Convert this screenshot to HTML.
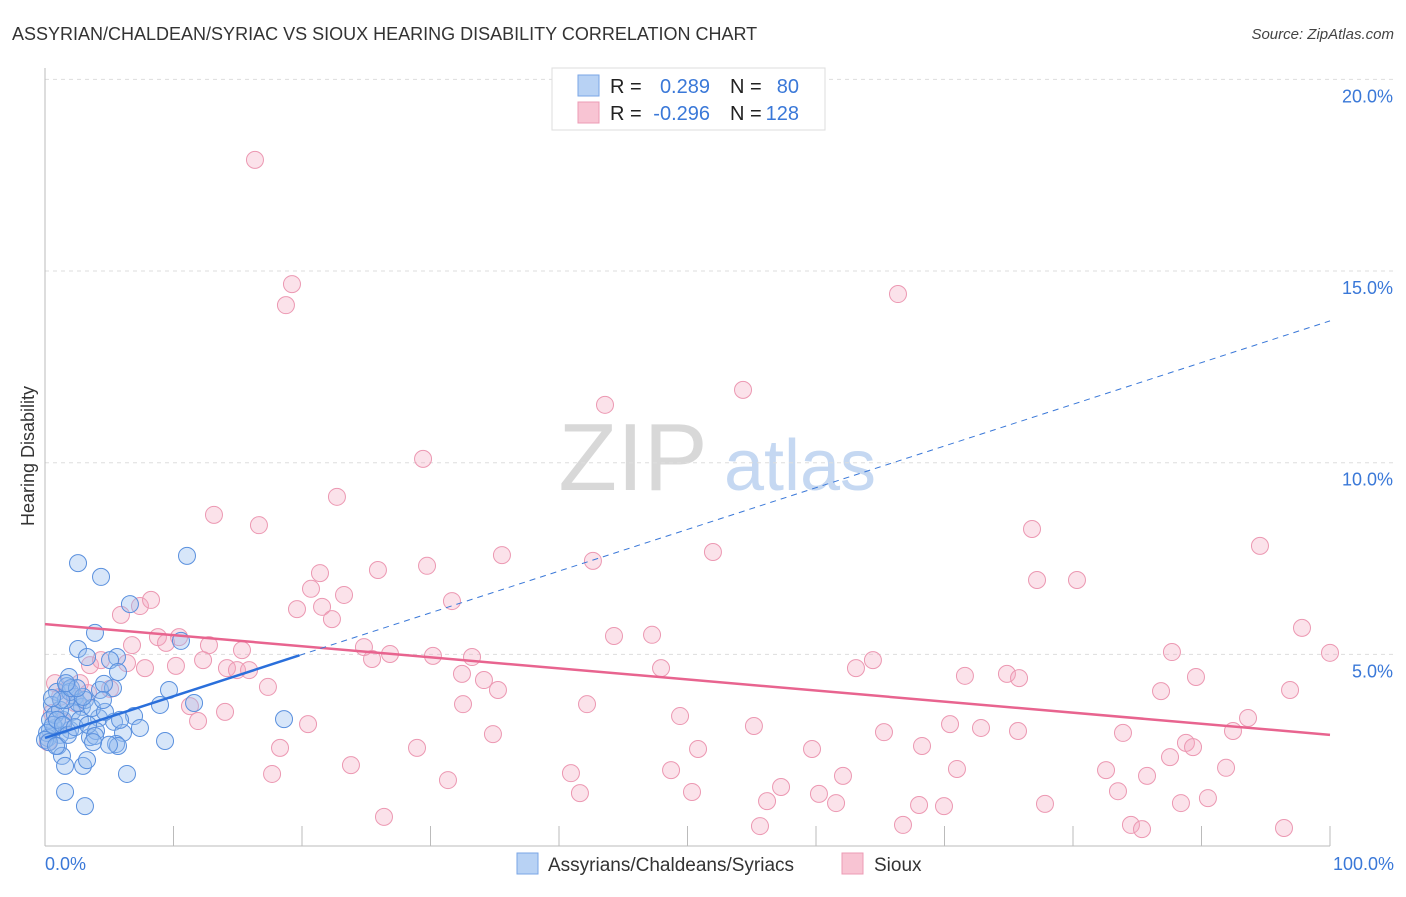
<!DOCTYPE html>
<html><head><meta charset="utf-8"><style>
body{margin:0;background:#fff;font-family:"Liberation Sans",sans-serif;}
svg text{font-family:"Liberation Sans",sans-serif;}
</style></head><body>
<svg id="chart" width="1406" height="892" xmlns="http://www.w3.org/2000/svg">
<text x="12" y="40" font-size="18" fill="#333">ASSYRIAN/CHALDEAN/SYRIAC VS SIOUX HEARING DISABILITY CORRELATION CHART</text>
<text x="1394" y="39" font-size="15" fill="#444" font-style="italic" text-anchor="end">Source: ZipAtlas.com</text>
<g>
<text x="633" y="490" font-size="96" fill="#d8d8d8" font-family="Liberation Serif" text-anchor="middle">ZIP</text>
<text x="800" y="490" font-size="72" fill="#c5d8f2" text-anchor="middle">atlas</text>
</g>
<text transform="translate(34,456) rotate(-90)" font-size="18" fill="#333" text-anchor="middle">Hearing Disability</text>
<g id="grid"></g>
<g id="axes"></g>
<g id="pts"></g>
<g id="lines"></g>
<g>
<rect x="552" y="68" width="273" height="62" fill="#fff" stroke="#ddd"/>
<rect x="578" y="75" width="21" height="21" fill="#b8d2f4" stroke="#7aa6e6"/>
<rect x="578" y="102" width="21" height="21" fill="#f8c4d3" stroke="#ec9bb4"/>
<text x="610" y="93" font-size="20" fill="#222">R =</text>
<text x="710" y="93" font-size="20" fill="#3a78d8" text-anchor="end">0.289</text>
<text x="730" y="93" font-size="20" fill="#222">N =</text>
<text x="799" y="93" font-size="20" fill="#3a78d8" text-anchor="end">80</text>
<text x="610" y="120" font-size="20" fill="#222">R =</text>
<text x="710" y="120" font-size="20" fill="#3a78d8" text-anchor="end">-0.296</text>
<text x="730" y="120" font-size="20" fill="#222">N =</text>
<text x="799" y="120" font-size="20" fill="#3a78d8" text-anchor="end">128</text>
</g>
<g>
<rect x="517" y="853" width="21" height="21" fill="#b8d2f4" stroke="#7aa6e6"/>
<text x="548" y="871" font-size="19" fill="#333">Assyrians/Chaldeans/Syriacs</text>
<rect x="842" y="853" width="21" height="21" fill="#f8c4d3" stroke="#ec9bb4"/>
<text x="874" y="871" font-size="19" fill="#333">Sioux</text>
</g>
</svg>
<script>
const yTicks=[5,10,15,20];
const yTickLabels=["5.0%","10.0%","15.0%","20.0%"];
const xTickLabels=["0.0%","100.0%"];
const blueX=[2.57,4.36,11.05,6.61,3.89,2.57,10.58,3.27,5.60,5.06,1.87,0.93,1.71,2.33,4.28,5.29,5.68,4.59,9.65,11.60,8.95,2.88,4.20,6.93,5.37,3.50,6.07,5.53,3.97,1.95,1.17,0.78,0.39,0.23,1.40,2.10,2.57,3.11,0.54,1.01,1.32,1.56,2.96,3.27,5.68,9.34,6.38,1.56,3.11,18.6,0.39,0.78,1.17,1.63,1.95,3.66,4.67,2.72,0.16,0.62,0.93,1.40,0.0,0.31,1.79,2.33,3.35,3.89,4.98,5.84,7.39,1.25,2.02,0.54,2.96,2.49,1.63,0.86,3.74,4.51];
const blueY=[7.38,7.02,7.57,6.31,5.56,5.14,5.35,4.93,4.93,4.85,4.41,4.02,4.17,3.89,4.07,4.12,4.54,4.23,4.07,3.73,3.68,3.63,3.34,3.39,3.24,2.84,2.95,2.66,3.00,3.03,2.90,3.08,3.03,2.82,3.29,3.50,3.73,3.81,3.68,2.61,2.35,2.09,2.09,2.24,2.61,2.74,1.88,1.41,1.04,3.31,3.29,3.42,3.55,3.81,4.02,3.60,3.50,3.29,2.95,3.16,3.29,3.16,2.77,2.71,2.90,3.10,3.16,2.87,2.64,3.29,3.08,3.81,4.12,3.86,3.89,4.12,4.25,2.61,2.71,3.81];
const pinkX=[16.34,19.22,18.75,66.38,54.32,43.58,29.42,22.72,13.15,16.65,76.81,94.55,35.56,51.98,42.64,25.91,29.73,21.40,77.20,80.31,20.70,23.27,19.61,21.56,31.67,22.33,7.39,8.25,5.91,97.82,100.0,44.28,47.24,8.79,10.43,12.76,6.77,9.42,15.33,24.82,26.85,25.45,30.19,33.23,10.19,12.30,14.16,14.94,15.88,6.38,7.78,3.50,4.36,47.94,63.11,64.43,87.70,32.45,34.16,35.25,71.59,74.86,75.80,89.57,86.85,96.89,17.35,32.53,42.18,11.28,14.01,11.91,20.47,49.42,55.17,70.43,72.84,93.62,92.45,65.29,83.89,75.72,34.86,68.25,88.79,89.34,18.29,28.95,50.82,59.69,87.55,23.81,17.67,40.93,70.97,48.72,82.57,91.91,85.76,62.10,31.36,41.63,50.35,57.28,60.23,83.50,56.19,61.56,68.02,69.96,77.82,88.40,90.50,26.38,55.64,66.77,84.51,85.37,96.42,2.72,0.78,1.71,3.35,1.17,0.54,5.06,2.33,0.23,1.40];
const pinkY=[17.90,14.66,14.11,14.40,11.90,11.51,10.10,9.11,8.64,8.37,8.27,7.83,7.59,7.67,7.44,7.20,7.31,7.12,6.94,6.94,6.71,6.55,6.18,6.24,6.39,5.92,6.26,6.42,6.03,5.69,5.04,5.48,5.51,5.45,5.45,5.24,5.24,5.30,5.11,5.19,5.01,4.88,4.96,4.93,4.70,4.85,4.64,4.59,4.59,4.77,4.64,4.72,4.85,4.64,4.64,4.85,5.06,4.49,4.33,4.07,4.44,4.49,4.38,4.41,4.04,4.07,4.15,3.70,3.70,3.65,3.50,3.26,3.18,3.39,3.13,3.18,3.08,3.34,3.00,2.97,2.95,3.00,2.92,2.61,2.69,2.58,2.56,2.56,2.53,2.53,2.32,2.11,1.88,1.90,2.01,1.98,1.98,2.04,1.83,1.83,1.72,1.38,1.41,1.54,1.36,1.43,1.17,1.12,1.07,1.04,1.10,1.12,1.25,0.76,0.52,0.55,0.55,0.44,0.47,4.25,4.25,4.07,3.99,3.89,3.47,4.10,3.73,2.71,3.24];
const blueTrend=[2.82,13.70];
const pinkTrend=[5.79,2.90];
const blueSolidEnd=19.8;

const NS="http://www.w3.org/2000/svg";
const X=v=>45+v*12.85;
const Y=v=>846-v*38.33;
function mk(tag,attrs,parent){const e=document.createElementNS(NS,tag);for(const k in attrs)e.setAttribute(k,attrs[k]);parent.appendChild(e);return e;}
const grid=document.getElementById('grid'),axes=document.getElementById('axes'),pts=document.getElementById('pts'),lines=document.getElementById('lines');
yTicks.forEach((t,i)=>{
 const l=mk('line',{x1:45,x2:1394,y1:Y(t),y2:Y(t),stroke:'#ddd','stroke-dasharray':'4,4'},grid);
 
 
 const tx=mk('text',{x:1393,y:Y(t)+23,'font-size':18,fill:'#3a78d8','text-anchor':'end'},grid);
 tx.textContent=yTickLabels[i];
 
 
});
const ya=mk('line',{x1:45,x2:45,y1:68,y2:846,stroke:'#bbb'},axes);


const xa=mk('line',{x1:45,x2:1330,y1:846,y2:846,stroke:'#bbb'},axes);


for(let i=0;i<=10;i++){const t=mk('line',{x1:X(i*10),x2:X(i*10),y1:826,y2:846,stroke:'#bbb'},axes);
 
 }
[[0,'start',45],[100,'end',1394]].forEach((a,i)=>{const t=mk('text',{x:a[2],y:870,'font-size':18,fill:'#3a78d8','text-anchor':a[1]},axes);t.textContent=xTickLabels[i];
 
 });
pinkX.forEach((v,i)=>{const c=mk('circle',{cx:X(v),cy:Y(pinkY[i]),r:8.5,fill:'rgba(244,166,190,0.32)',stroke:'#ec98b2','stroke-width':1},pts);
 
 });
blueX.forEach((v,i)=>{const c=mk('circle',{cx:X(v),cy:Y(blueY[i]),r:8.5,fill:'rgba(150,190,238,0.38)',stroke:'#5a90de','stroke-width':1},pts);
 
 });
const by=x=>blueTrend[0]+(blueTrend[1]-blueTrend[0])*x/100;
const pl=mk('line',{x1:X(0),y1:Y(pinkTrend[0]),x2:X(100),y2:Y(pinkTrend[1]),stroke:'#e8648f','stroke-width':2.5},lines);


const bs=mk('line',{x1:X(0),y1:Y(by(0)),x2:X(blueSolidEnd),y2:Y(by(blueSolidEnd)),stroke:'#2a6fdb','stroke-width':2.5},lines);


const bd=mk('line',{x1:X(blueSolidEnd),y1:Y(by(blueSolidEnd)),x2:X(100),y2:Y(by(100)),stroke:'#3a78d8','stroke-width':1,'stroke-dasharray':'6,5'},lines);


</script>
</body></html>
